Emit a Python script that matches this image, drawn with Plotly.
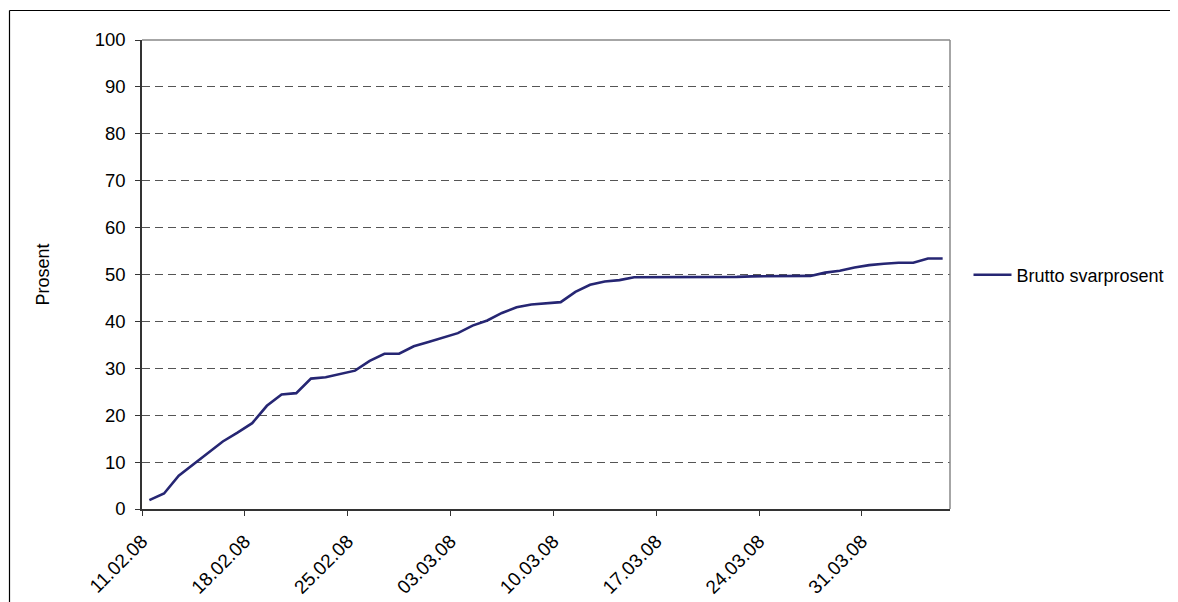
import pandas as pd
import plotly.graph_objects as go

# Data: daily gross response rate (%) from 11.02.08
start_date = "2008-02-11 12:00"
series_name = "Brutto svarprosent"
values = [1.9, 3.3, 7.1, 9.6, 12.0, 14.4, 16.3, 18.3, 22.0, 24.4, 24.7, 27.8, 28.1, 28.8,
          29.5, 31.6, 33.1, 33.1, 34.7, 35.6, 36.6, 37.5, 39.1, 40.2, 41.8, 43.0, 43.6, 43.8,
          44.1, 46.3, 47.8, 48.5, 48.8, 49.4, 49.4, 49.4, 49.4, 49.5, 49.5, 49.5, 49.5, 49.6,
          49.6, 49.6, 49.7, 49.7, 50.4, 50.8, 51.5, 52.0, 52.3, 52.5, 52.5, 53.4, 53.4]
dates = pd.date_range(start_date, periods=len(values), freq="D")
tick_dates = ["2008-02-11", "2008-02-18", "2008-02-25", "2008-03-03",
              "2008-03-10", "2008-03-17", "2008-03-24", "2008-03-31"]
tick_labels = ["11.02.08", "18.02.08", "25.02.08", "03.03.08",
               "10.03.08", "17.03.08", "24.03.08", "31.03.08"]
y_ticks = list(range(0, 101, 10))

FONT = "Liberation Sans, Arial, sans-serif"
OFF = 8  # page body margin
W, H = 1178 - OFF, 602 - OFF
L, T = 142 - OFF, 40 - OFF
pw, ph = 808, 469
R, B = W - L - pw, H - T - ph


def px_x(sx):
    """screen x -> paper x"""
    return (sx - OFF - L) / pw


def px_y(sy):
    """screen y -> paper y"""
    return (T + ph - (sy - OFF)) / ph


fig = go.Figure()
fig.add_trace(go.Scatter(x=dates, y=values, mode="lines", name=series_name,
                         line=dict(color="#262673", width=2.6)))

fig.update_layout(
    width=W, height=H,
    margin=dict(l=L, r=R, t=T, b=B, pad=0, autoexpand=False),
    paper_bgcolor="white", plot_bgcolor="white",
    font=dict(family=FONT, size=18, color="black"),
    showlegend=True,
    legend=dict(x=px_x(968.5), xanchor="left", y=px_y(275), yanchor="middle",
                font=dict(size=18, family=FONT, color="black"),
                bgcolor="rgba(0,0,0,0)", borderwidth=0, itemwidth=38),
    xaxis=dict(
        type="date", range=["2008-02-11", "2008-04-06"],
        tickmode="array", tickvals=tick_dates, ticktext=tick_labels,
        tickangle=-45, ticks="outside", ticklen=5, tickcolor="#333",
        ticklabelstandoff=7,
        showline=True, linecolor="#333", linewidth=1.5,
        showgrid=False, zeroline=False,
        tickfont=dict(size=19, family=FONT, color="black"),
    ),
    yaxis=dict(
        range=[0, 100], tickmode="array", tickvals=y_ticks,
        ticks="outside", ticklen=5, tickcolor="#333", ticklabelstandoff=6,
        showline=True, linecolor="#333", linewidth=1.5,
        showgrid=True, gridcolor="#555", gridwidth=1, griddash="8px,5px",
        zeroline=False,
        tickfont=dict(size=18.5, family=FONT, color="black"),
    ),
)

# axis title as annotation
fig.add_annotation(text="Prosent", xref="paper", yref="paper",
                   x=px_x(42), y=0.5, textangle=-90, showarrow=False,
                   font=dict(size=18, family=FONT, color="black"),
                   xanchor="center", yanchor="middle")

# plot area border (top and right, gray)
fig.add_shape(type="line", xref="paper", yref="paper", x0=0, x1=1, y0=1, y1=1,
              line=dict(color="#888", width=1.5))
fig.add_shape(type="line", xref="paper", yref="paper", x0=1, x1=1, y0=0, y1=1,
              line=dict(color="#888", width=1.5))

# outer chart frame (top and left visible)
fig.add_shape(type="line", xref="paper", yref="paper",
              x0=px_x(9.5), x1=px_x(1185), y0=px_y(10.5), y1=px_y(10.5),
              line=dict(color="black", width=1.2))
fig.add_shape(type="line", xref="paper", yref="paper",
              x0=px_x(9.5), x1=px_x(9.5), y0=px_y(10.5), y1=px_y(620),
              line=dict(color="black", width=1.2))

fig.write_html("out.html")
